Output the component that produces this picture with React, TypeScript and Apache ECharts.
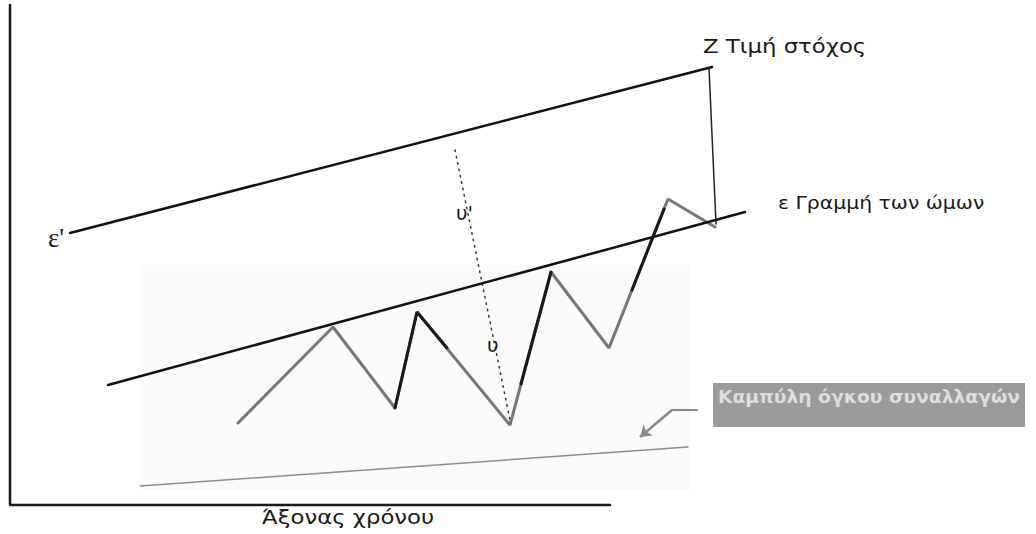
import React, { useEffect, useRef } from "react";
import * as echarts from "echarts";

// Schematic values: x = time position, y = price level
const axisFrame: [number, number][] = [[10, 529], [10, 29], [610, 29]];
const upperLine: [number, number][] = [[70, 301], [712, 467]]; // ε'
const neckLine: [number, number][] = [[108, 149], [745, 322]]; // ε
const targetLine: [number, number][] = [[709, 466], [716, 310]]; // Z
const heightLine: [number, number][] = [[455, 384], [510, 114]]; // υ, υ'
const priceZigzag: [number, number][] = [
  [238, 111], [333, 207], [395, 126], [417, 222], [510, 109],
  [551, 262], [609, 186], [668, 335], [715, 307],
];
const darkSegA: [number, number][] = [[395, 126], [417, 222], [447, 186]];
const darkSegB: [number, number][] = [[521, 150], [551, 262]];
const darkSegC: [number, number][] = [[632, 244], [664, 325]];
const volumeLine: [number, number][] = [[140, 48], [688, 87]];
const arrowShaft: [number, number][] = [[697, 124], [672, 124]];
const arrowHead: [number, number][] = [[672, 124], [640, 97]];

const labelTarget = "Z Τιμή στόχος";
const labelNeck = "ε Γραμμή των ώμων";
const labelUpper = "ε'";
const labelU1 = "υ'";
const labelU = "υ";
const labelTime = "Άξονας χρόνου";
const labelVolume = "Καμπύλη όγκου συναλλαγών";

const FONT = "DejaVu Sans";

export default function App() {
  const ref = useRef<HTMLDivElement>(null);
  useEffect(() => {
    if (!ref.current) return;
    const chart = echarts.init(ref.current, undefined, { renderer: "svg" });
    const line = (data: [number, number][], color: string, width: number, type: any = "solid", z = 2) => ({
      type: "line",
      data,
      symbol: "none",
      silent: true,
      z,
      lineStyle: { color, width, type, cap: "round" },
    });
    const txt = (x: number, y: number, text: string, size: number, family: string, scaleX = 1, fill = "#1a1a1a", weight = "normal") => ({
      type: "text",
      x,
      y,
      scaleX,
      z: 5,
      style: { text, fill, fontSize: size, fontFamily: family, fontWeight: weight },
    });
    chart.setOption({
      animation: false,
      backgroundColor: "#ffffff",
      grid: { left: 0, right: 0, top: 0, bottom: 0 },
      xAxis: { type: "value", min: 0, max: 1036, show: false },
      yAxis: { type: "value", min: 0, max: 534, show: false },
      graphic: [
        { type: "rect", shape: { x: 140, y: 265, width: 550, height: 225 }, style: { fill: "#fafafa" }, z: -10 },
        { type: "rect", shape: { x: 713, y: 383, width: 312, height: 44 }, style: { fill: "#9b9b9b" }, z: 1 },
        txt(718, 388, labelVolume, 17, FONT, 1.1, "#dedede", "bold"),
        txt(703, 37, labelTarget, 19, FONT, 1.2),
        txt(778, 195, labelNeck, 17, FONT, 1.2),
        txt(48, 224, labelUpper, 27, "Liberation Serif"),
        txt(456, 203, labelU1, 20, FONT),
        txt(487, 335, labelU, 20, FONT),
        txt(262, 508, labelTime, 19, FONT, 1.2),
      ],
      series: [
        line(axisFrame, "#1a1a1a", 2.5),
        line(upperLine, "#111111", 2.5),
        line(neckLine, "#111111", 2.5, "solid", 4),
        line(targetLine, "#222222", 1.5),
        line(heightLine, "#333333", 1.5, [1.5, 5]),
        line(priceZigzag, "#777777", 3),
        line(darkSegA, "#1a1a1a", 3, "solid", 3),
        line(darkSegB, "#1a1a1a", 3, "solid", 3),
        line(darkSegC, "#1a1a1a", 3, "solid", 3),
        line(volumeLine, "#8c8c8c", 1.5),
        line(arrowShaft, "#8a8a8a", 2),
        {
          type: "lines",
          coordinateSystem: "cartesian2d",
          silent: true,
          symbol: ["none", "arrow"],
          symbolSize: 11,
          lineStyle: { color: "#8a8a8a", width: 2.5, opacity: 1 },
          data: [{ coords: arrowHead }],
        },
      ],
    });
    return () => chart.dispose();
  }, []);
  return <div ref={ref} style={{ position: "fixed", left: 0, top: 0, width: 1036, height: 534 }} />;
}
